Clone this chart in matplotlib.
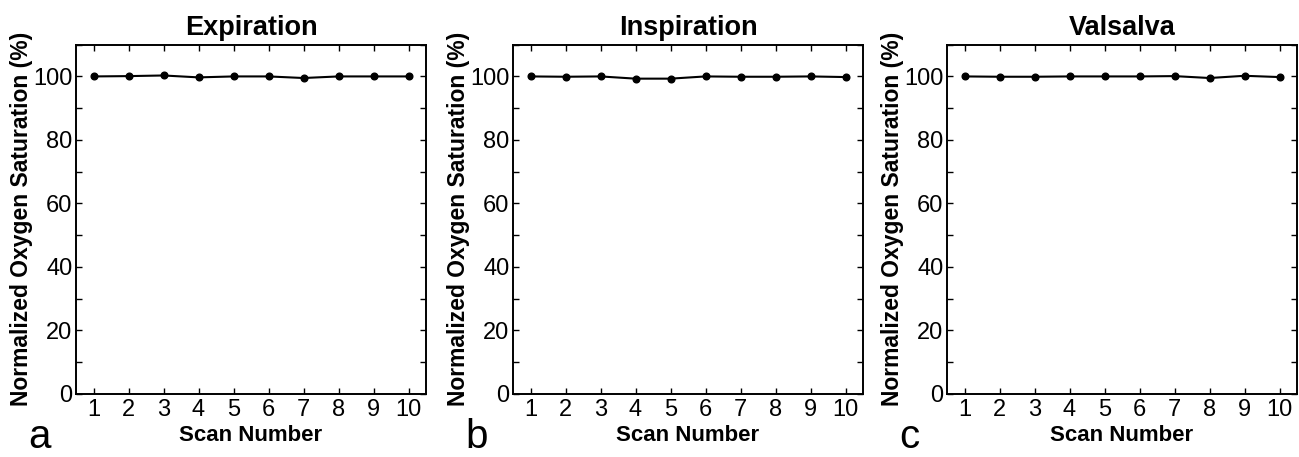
import matplotlib
matplotlib.use("Agg")
import matplotlib.pyplot as plt
from matplotlib.ticker import MultipleLocator, FuncFormatter

plt.rcParams['font.family'] = ['Liberation Sans', 'DejaVu Sans']

scans = [1, 2, 3, 4, 5, 6, 7, 8, 9, 10]
titles = ["Expiration", "Inspiration", "Valsalva"]
panel_letters = ["a", "b", "c"]
expiration = [100.0, 100.1, 100.3, 99.7, 100.0, 100.0, 99.5, 100.0, 100.0, 100.0]
inspiration = [100.0, 99.9, 100.0, 99.3, 99.3, 100.0, 99.9, 99.9, 100.0, 99.8]
valsalva = [100.0, 99.9, 99.9, 100.0, 100.0, 100.0, 100.1, 99.5, 100.2, 99.8]
series = [expiration, inspiration, valsalva]

W, H = 1299, 457
fig = plt.figure(figsize=(W / 100, H / 100), dpi=100)

lefts = [76, 513, 947]
ax_w = 350
top, bottom = 44.7, 393.7

for i, (left, title, vals, letter) in enumerate(zip(lefts, titles, series, panel_letters)):
    ax = fig.add_axes([left / W, 1 - bottom / H, ax_w / W, (bottom - top) / H])
    ax.plot(scans, vals, color='black', lw=1.5, marker='o', markersize=4.8)
    ax.set_xlim(0.5, 10.5)
    ax.set_ylim(0, 110)
    ax.set_xticks(scans)
    ax.yaxis.set_major_locator(MultipleLocator(10))
    ax.yaxis.set_major_formatter(FuncFormatter(lambda v, p: f"{int(round(v))}" if int(round(v)) % 20 == 0 and v <= 100 else ""))
    ax.tick_params(direction='in', top=True, right=True, length=4.5, width=1.0,
                   labelsize=17)
    ax.tick_params(axis='x', pad=4)
    ax.tick_params(axis='y', pad=2.5)
    for s in ax.spines.values():
        s.set_linewidth(1.4)
    ax.set_title(title, fontsize=19.5, fontweight='bold', pad=7)
    ax.set_xlabel("Scan Number", fontsize=16, fontweight='bold', labelpad=3)
    ax.set_ylabel("Normalized Oxygen Saturation (%)", fontsize=16.5, fontweight='bold', labelpad=0)
    fig.text((left - 48) / W, 1 / H, letter, fontsize=29, ha='left', va='bottom')

fig.savefig("out.png", dpi=100)
